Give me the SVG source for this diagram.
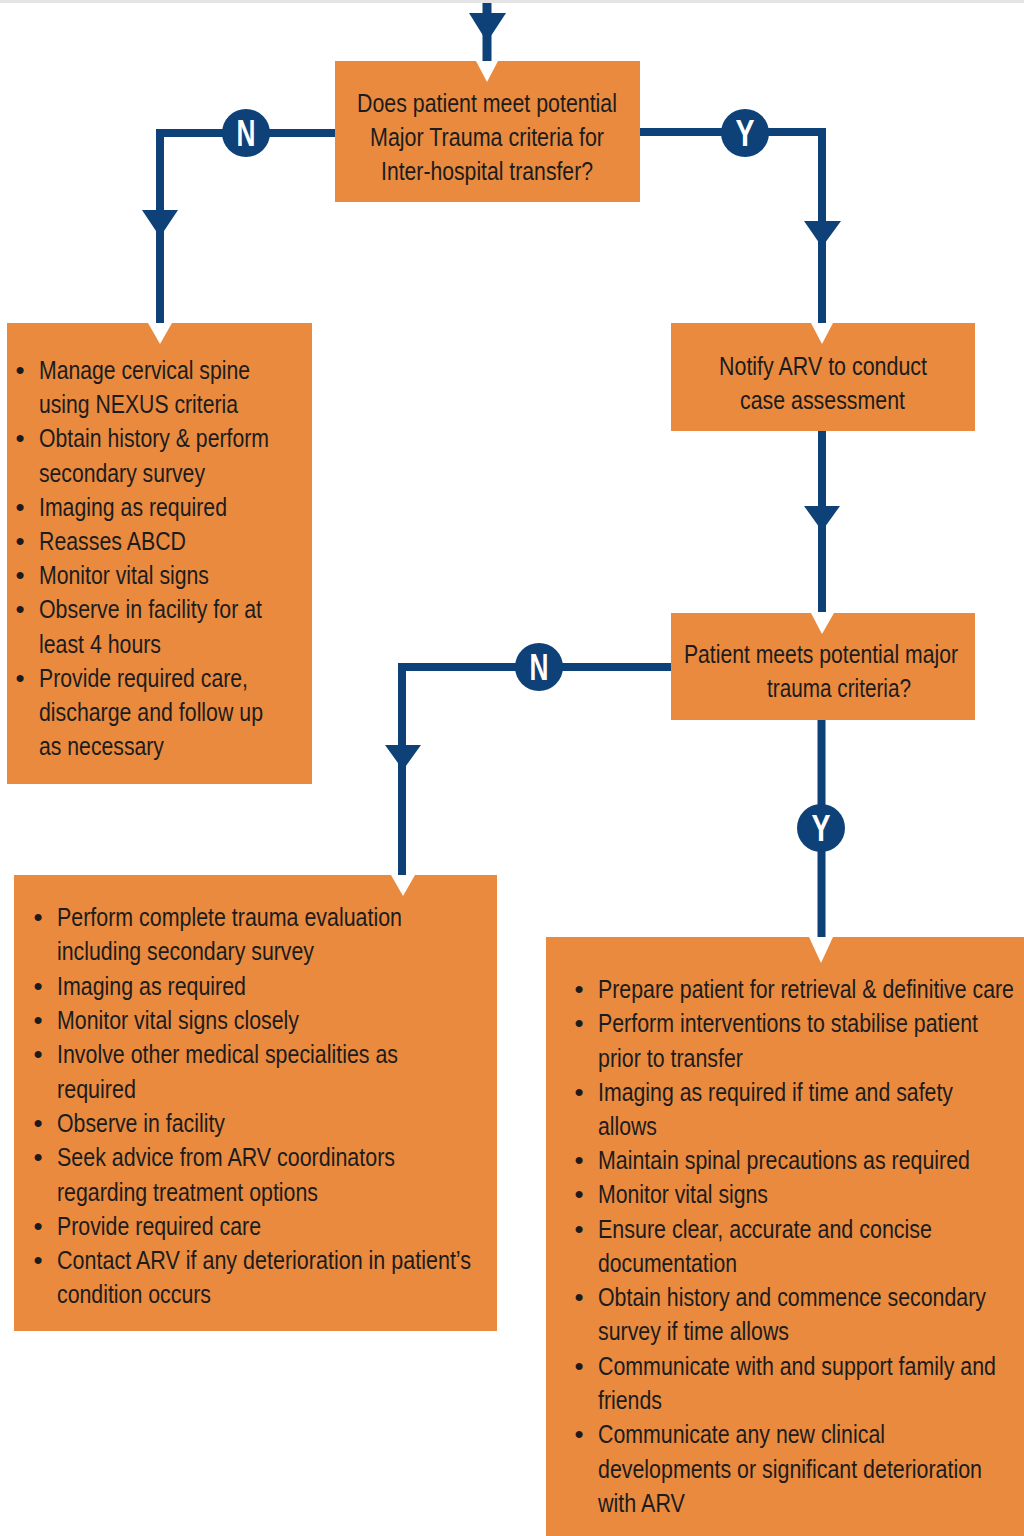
<svg xmlns="http://www.w3.org/2000/svg" width="1024" height="1536" viewBox="0 0 1024 1536">
<style>
.box{fill:#E98A3F}
.notch{fill:#ffffff}
.t{font-family:"Liberation Sans",Arial,sans-serif;font-size:26px;fill:#1c1c1c}
.b{font-family:"Liberation Sans",Arial,sans-serif;font-size:26px;fill:#1c1c1c;text-anchor:middle}
.ln{fill:none;stroke:#0D4177;stroke-width:8;stroke-linejoin:miter;stroke-linecap:butt}
.ah{fill:#0D4177}
.lc{fill:#0D4177}
.lt{font-family:"Liberation Sans",Arial,sans-serif;font-size:36px;font-weight:bold;fill:#ffffff;text-anchor:middle}
</style>
<rect x="0" y="0" width="1024" height="1536" fill="#ffffff"/>
<rect x="0" y="0" width="1024" height="3" fill="#e4e4e4"/>

<g id="connectors">
  <path class="ln" d="M487,3 V61" style="stroke-width:9"/>
  <polygon class="ah" points="469,13 506,13 487,42"/>

  <path class="ln" d="M335,133 H160 V323"/>
  <polygon class="ah" points="142,210 178,210 160,237"/>
  <g id="label-n1"><circle class="lc" cx="246" cy="133" r="24"/><text class="lt" x="246" y="146" textLength="19" lengthAdjust="spacingAndGlyphs">N</text></g>

  <path class="ln" d="M640,132 H822 V323"/>
  <polygon class="ah" points="804,221 841,221 822,247"/>
  <g id="label-y1"><circle class="lc" cx="745" cy="133" r="24"/><text class="lt" x="745" y="146" textLength="19" lengthAdjust="spacingAndGlyphs">Y</text></g>

  <path class="ln" d="M822,431 V612"/>
  <polygon class="ah" points="804,506 840,506 822,531"/>

  <path class="ln" d="M672,667 H402 V875"/>
  <polygon class="ah" points="385,745 421,745 403,770"/>
  <g id="label-n2"><circle class="lc" cx="539" cy="667" r="24"/><text class="lt" x="539" y="680" textLength="19" lengthAdjust="spacingAndGlyphs">N</text></g>

  <path class="ln" d="M821.5,720 V937"/>
  <g id="label-y2"><circle class="lc" cx="821" cy="828" r="24"/><text class="lt" x="821" y="841" textLength="19" lengthAdjust="spacingAndGlyphs">Y</text></g>
</g>

<g id="node-question1">
  <rect class="box" x="335" y="61" width="305" height="141"/>
  <polygon class="notch" points="476,61 498,61 487,82"/>
  <g transform="scale(0.82 1)">
    <text class="t" x="435.37" y="112" textLength="317.07" lengthAdjust="spacingAndGlyphs">Does patient meet potential</text>
    <text class="t" x="451.22" y="146" textLength="285.37" lengthAdjust="spacingAndGlyphs">Major Trauma criteria for</text>
    <text class="t" x="464.63" y="180" textLength="258.54" lengthAdjust="spacingAndGlyphs">Inter-hospital transfer?</text>
  </g>
</g>

<g id="node-no-transfer">
  <rect class="box" x="7" y="323" width="305" height="461"/>
  <polygon class="notch" points="148,323 172,323 160,344"/>
  <g class="bul">
    <text class="b" x="20" y="379">•</text>
    <text class="b" x="20" y="447">•</text>
    <text class="b" x="20" y="516">•</text>
    <text class="b" x="20" y="550">•</text>
    <text class="b" x="20" y="584">•</text>
    <text class="b" x="20" y="618">•</text>
    <text class="b" x="20" y="687">•</text>
  </g>
  <g transform="scale(0.82 1)">
    <text class="t" x="47.56" y="379" textLength="257.32" lengthAdjust="spacingAndGlyphs">Manage cervical spine</text>
    <text class="t" x="47.56" y="413" textLength="242.68" lengthAdjust="spacingAndGlyphs">using NEXUS criteria</text>
    <text class="t" x="47.56" y="447" textLength="280.49" lengthAdjust="spacingAndGlyphs">Obtain history &amp; perform</text>
    <text class="t" x="47.56" y="482" textLength="202.44" lengthAdjust="spacingAndGlyphs">secondary survey</text>
    <text class="t" x="47.56" y="516" textLength="229.27" lengthAdjust="spacingAndGlyphs">Imaging as required</text>
    <text class="t" x="47.56" y="550" textLength="179.27" lengthAdjust="spacingAndGlyphs">Reasses ABCD</text>
    <text class="t" x="47.56" y="584" textLength="207.32" lengthAdjust="spacingAndGlyphs">Monitor vital signs</text>
    <text class="t" x="47.56" y="618" textLength="271.95" lengthAdjust="spacingAndGlyphs">Observe in facility for at</text>
    <text class="t" x="47.56" y="653" textLength="148.78" lengthAdjust="spacingAndGlyphs">least 4 hours</text>
    <text class="t" x="47.56" y="687" textLength="254.88" lengthAdjust="spacingAndGlyphs">Provide required care,</text>
    <text class="t" x="47.56" y="721" textLength="273.17" lengthAdjust="spacingAndGlyphs">discharge and follow up</text>
    <text class="t" x="47.56" y="755" textLength="152.44" lengthAdjust="spacingAndGlyphs">as necessary</text>
  </g>
</g>

<g id="node-notify">
  <rect class="box" x="671" y="323" width="304" height="108"/>
  <polygon class="notch" points="811,323 833,323 822,344"/>
  <g transform="scale(0.82 1)">
    <text class="t" x="876.83" y="375" textLength="253.66" lengthAdjust="spacingAndGlyphs">Notify ARV to conduct</text>
    <text class="t" x="902.44" y="409" textLength="201.22" lengthAdjust="spacingAndGlyphs">case assessment</text>
  </g>
</g>

<g id="node-question2">
  <rect class="box" x="671" y="613" width="304" height="107"/>
  <polygon class="notch" points="811,613 834,613 822,634"/>
  <g transform="scale(0.82 1)">
    <text class="t" x="834.15" y="663" textLength="334.15" lengthAdjust="spacingAndGlyphs">Patient meets potential major</text>
    <text class="t" x="935.37" y="697" textLength="175.61" lengthAdjust="spacingAndGlyphs">trauma criteria?</text>
  </g>
</g>

<g id="node-no-major">
  <rect class="box" x="14" y="875" width="483" height="456"/>
  <polygon class="notch" points="391,875 415,875 403,896"/>
  <g class="bul">
    <text class="b" x="38" y="926">•</text>
    <text class="b" x="38" y="995">•</text>
    <text class="b" x="38" y="1029">•</text>
    <text class="b" x="38" y="1063">•</text>
    <text class="b" x="38" y="1132">•</text>
    <text class="b" x="38" y="1166">•</text>
    <text class="b" x="38" y="1235">•</text>
    <text class="b" x="38" y="1269">•</text>
  </g>
  <g transform="scale(0.82 1)">
    <text class="t" x="69.51" y="926" textLength="420.73" lengthAdjust="spacingAndGlyphs">Perform complete trauma evaluation</text>
    <text class="t" x="69.51" y="960" textLength="313.41" lengthAdjust="spacingAndGlyphs">including secondary survey</text>
    <text class="t" x="69.51" y="995" textLength="230.49" lengthAdjust="spacingAndGlyphs">Imaging as required</text>
    <text class="t" x="69.51" y="1029" textLength="295.12" lengthAdjust="spacingAndGlyphs">Monitor vital signs closely</text>
    <text class="t" x="69.51" y="1063" textLength="415.85" lengthAdjust="spacingAndGlyphs">Involve other medical specialities as</text>
    <text class="t" x="69.51" y="1098" textLength="96.34" lengthAdjust="spacingAndGlyphs">required</text>
    <text class="t" x="69.51" y="1132" textLength="204.88" lengthAdjust="spacingAndGlyphs">Observe in facility</text>
    <text class="t" x="69.51" y="1166" textLength="412.20" lengthAdjust="spacingAndGlyphs">Seek advice from ARV coordinators</text>
    <text class="t" x="69.51" y="1201" textLength="318.29" lengthAdjust="spacingAndGlyphs">regarding treatment options</text>
    <text class="t" x="69.51" y="1235" textLength="248.78" lengthAdjust="spacingAndGlyphs">Provide required care</text>
    <text class="t" x="69.51" y="1269" textLength="504.88" lengthAdjust="spacingAndGlyphs">Contact ARV if any deterioration in patient’s</text>
    <text class="t" x="69.51" y="1303" textLength="187.80" lengthAdjust="spacingAndGlyphs">condition occurs</text>
  </g>
</g>

<g id="node-major">
  <rect class="box" x="546" y="937" width="478" height="599"/>
  <polygon class="notch" points="809,937 833,937 821,963"/>
  <g class="bul">
    <text class="b" x="579" y="998">•</text>
    <text class="b" x="579" y="1032">•</text>
    <text class="b" x="579" y="1101">•</text>
    <text class="b" x="579" y="1169">•</text>
    <text class="b" x="579" y="1203">•</text>
    <text class="b" x="579" y="1238">•</text>
    <text class="b" x="579" y="1306">•</text>
    <text class="b" x="579" y="1375">•</text>
    <text class="b" x="579" y="1443">•</text>
  </g>
  <g transform="scale(0.82 1)">
    <text class="t" x="729.27" y="998" textLength="507.32" lengthAdjust="spacingAndGlyphs">Prepare patient for retrieval &amp; definitive care</text>
    <text class="t" x="729.27" y="1032" textLength="463.41" lengthAdjust="spacingAndGlyphs">Perform interventions to stabilise patient</text>
    <text class="t" x="729.27" y="1067" textLength="176.83" lengthAdjust="spacingAndGlyphs">prior to transfer</text>
    <text class="t" x="729.27" y="1101" textLength="432.93" lengthAdjust="spacingAndGlyphs">Imaging as required if time and safety</text>
    <text class="t" x="729.27" y="1135" textLength="71.95" lengthAdjust="spacingAndGlyphs">allows</text>
    <text class="t" x="729.27" y="1169" textLength="453.66" lengthAdjust="spacingAndGlyphs">Maintain spinal precautions as required</text>
    <text class="t" x="729.27" y="1203" textLength="207.32" lengthAdjust="spacingAndGlyphs">Monitor vital signs</text>
    <text class="t" x="729.27" y="1238" textLength="407.32" lengthAdjust="spacingAndGlyphs">Ensure clear, accurate and concise</text>
    <text class="t" x="729.27" y="1272" textLength="169.51" lengthAdjust="spacingAndGlyphs">documentation</text>
    <text class="t" x="729.27" y="1306" textLength="473.17" lengthAdjust="spacingAndGlyphs">Obtain history and commence secondary</text>
    <text class="t" x="729.27" y="1340" textLength="232.93" lengthAdjust="spacingAndGlyphs">survey if time allows</text>
    <text class="t" x="729.27" y="1375" textLength="485.37" lengthAdjust="spacingAndGlyphs">Communicate with and support family and</text>
    <text class="t" x="729.27" y="1409" textLength="78.05" lengthAdjust="spacingAndGlyphs">friends</text>
    <text class="t" x="729.27" y="1443" textLength="350" lengthAdjust="spacingAndGlyphs">Communicate any new clinical</text>
    <text class="t" x="729.27" y="1478" textLength="468.29" lengthAdjust="spacingAndGlyphs">developments or significant deterioration</text>
    <text class="t" x="729.27" y="1512" textLength="106.10" lengthAdjust="spacingAndGlyphs">with ARV</text>
  </g>
</g>
</svg>
